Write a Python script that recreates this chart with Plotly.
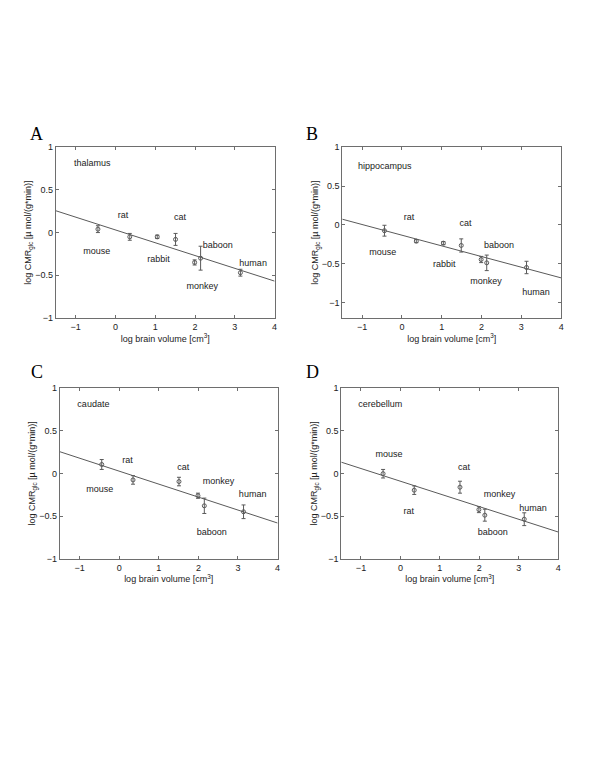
import plotly.graph_objects as go

# ---------------- data ----------------
# Panel A: thalamus
A_species = ["mouse", "rat", "rabbit", "cat", "monkey", "baboon", "human"]
A_x = [-0.44, 0.36, 1.05, 1.51, 1.99, 2.14, 3.14]
A_y = [0.04, -0.05, -0.05, -0.08, -0.35, -0.30, -0.47]
A_err = [0.04, 0.04, 0.02, 0.07, 0.03, 0.14, 0.04]
A_fit = (0.031, -0.150)  # intercept, slope
A_lab_x = [-0.47, 0.19, 1.08, 1.62, 2.18, 2.57, 3.46]
A_lab_y = [-0.22, 0.20, -0.32, 0.17, -0.63, -0.16, -0.37]

# Panel B: hippocampus
B_species = ["mouse", "rat", "rabbit", "cat", "monkey", "baboon", "human"]
B_x = [-0.44, 0.36, 1.04, 1.49, 1.99, 2.13, 3.13]
B_y = [-0.076, -0.21, -0.236, -0.266, -0.447, -0.49, -0.55]
B_err = [0.07, 0.02, 0.02, 0.085, 0.04, 0.10, 0.08]
B_fit = (-0.134, -0.1375)
B_lab_x = [-0.48, 0.18, 1.06, 1.60, 2.11, 2.44, 3.37]
B_lab_y = [-0.36, 0.09, -0.51, 0.017, -0.74, -0.27, -0.88]

# Panel C: caudate
C_species = ["mouse", "rat", "cat", "monkey", "baboon", "human"]
C_x = [-0.44, 0.35, 1.51, 1.99, 2.15, 3.14]
C_y = [0.104, -0.077, -0.096, -0.262, -0.38, -0.45]
C_err = [0.058, 0.05, 0.05, 0.03, 0.09, 0.08]
C_fit = (0.026, -0.152)
C_lab_x = [-0.49, 0.21, 1.62, 2.51, 2.34, 3.37]
C_lab_y = [-0.19, 0.146, 0.066, -0.10, -0.70, -0.25]

# Panel D: cerebellum
D_species = ["mouse", "rat", "cat", "monkey", "baboon", "human"]
D_x = [-0.44, 0.35, 1.51, 1.99, 2.14, 3.14]
D_y = [-0.004, -0.197, -0.162, -0.425, -0.49, -0.537]
D_err = [0.05, 0.05, 0.07, 0.035, 0.07, 0.075]
D_fit = (-0.092, -0.1487)
D_lab_x = [-0.29, 0.21, 1.61, 2.51, 2.34, 3.36]
D_lab_y = [0.216, -0.45, 0.066, -0.255, -0.70, -0.42]

regions = ["thalamus", "hippocampus", "caudate", "cerebellum"]
letters = ["A", "B", "C", "D"]
x_ticks = [-1, 0, 1, 2, 3, 4]
x_ticklabels = ["−1", "0", "1", "2", "3", "4"]
y_ticks = [-1, -0.5, 0, 0.5, 1]
y_ticklabels = ["−1", "−0.5", "0", "0.5", "1"]
x_range = [-1.5, 4]
y_ranges = [[-1, 1], [-1.2, 1], [-1, 1], [-1, 1]]
region_label_pos = [(-0.58, 0.81), (-0.43, 0.75), (-0.65, 0.80), (-0.51, 0.80)]

panels = [
    (A_species, A_x, A_y, A_err, A_fit, A_lab_x, A_lab_y),
    (B_species, B_x, B_y, B_err, B_fit, B_lab_x, B_lab_y),
    (C_species, C_x, C_y, C_err, C_fit, C_lab_x, C_lab_y),
    (D_species, D_x, D_y, D_err, D_fit, D_lab_x, D_lab_y),
]

# ---------------- layout geometry (window pixels) ----------------
OFF = 8  # default page body margin
W, H = 600 - 2 * OFF, 776 - 2 * OFF
boxes = [(56, 276, 144, 317), (344, 564, 144, 317), (60, 279, 388, 561), (343, 561, 388, 561)]
letter_pos = [(37, 131), (314, 131), (37, 372), (314, 372)]

GREY = "#5a5a5a"
AXC = "#6e6e6e"
FONT = "Liberation Sans, Arial, sans-serif"

fig = go.Figure()
annotations = []
layout = {}

for i, (sp, xs, ys, es, fit, lx, ly) in enumerate(panels):
    n = "" if i == 0 else str(i + 1)
    xa, ya = "x" + n, "y" + n
    b0, b1 = fit
    fig.add_trace(go.Scatter(
        x=x_range, y=[b0 + b1 * x_range[0], b0 + b1 * x_range[1]],
        mode="lines", line=dict(color=GREY, width=1),
        xaxis=xa, yaxis=ya, showlegend=False, hoverinfo="skip"))
    fig.add_trace(go.Scatter(
        x=xs, y=ys, mode="markers",
        marker=dict(symbol="circle-open", size=4, color=GREY, line=dict(width=1, color=GREY)),
        error_y=dict(type="data", array=es, visible=True, color=GREY, thickness=1, width=2),
        xaxis=xa, yaxis=ya, showlegend=False))
    fig.add_trace(go.Scatter(
        x=lx, y=ly, mode="text", text=sp,
        textfont=dict(family=FONT, size=9, color="#222"),
        textposition="middle center",
        xaxis=xa, yaxis=ya, showlegend=False, hoverinfo="skip"))
    rx, ry = region_label_pos[i]
    fig.add_trace(go.Scatter(
        x=[rx], y=[ry], mode="text", text=[regions[i]],
        textfont=dict(family=FONT, size=9, color="#222"),
        textposition="middle center",
        xaxis=xa, yaxis=ya, showlegend=False, hoverinfo="skip"))

    l, r, t, bt = [v - OFF for v in boxes[i]]
    common = dict(showgrid=False, zeroline=False, showline=True, linecolor=AXC, linewidth=1,
                  mirror="ticks", ticks="inside", ticklen=3, tickcolor=AXC,
                  tickfont=dict(family=FONT, size=9, color="#222"))
    layout["xaxis" + n] = dict(
        domain=[l / W, r / W], anchor=ya, range=x_range, tickvals=x_ticks,
        ticktext=x_ticklabels,
        title=dict(text="log brain volume [cm<sup>3</sup>]", font=dict(family=FONT, size=9, color="#222"), standoff=2),
        **common)
    layout["yaxis" + n] = dict(
        domain=[1 - bt / H, 1 - t / H], anchor=xa, range=y_ranges[i], tickvals=y_ticks,
        ticktext=y_ticklabels,
        title=dict(text="log CMR<sub>glc</sub> [µ mol/(g*min)]", font=dict(family=FONT, size=9, color="#222"), standoff=0),
        **common)
    lxp, lyp = letter_pos[i]
    annotations.append(dict(
        x=(lxp - OFF) / W, y=1 - (lyp - OFF) / H, xref="paper", yref="paper", text=letters[i], showarrow=False,
        font=dict(family="Liberation Serif, Times New Roman, serif", size=18, color="#000"),
        xanchor="center", yanchor="middle"))

fig.update_layout(
    width=W, height=H, margin=dict(l=0, r=0, t=0, b=0),
    paper_bgcolor="white", plot_bgcolor="white",
    annotations=annotations, **layout)

fig.write_html("out.html")
